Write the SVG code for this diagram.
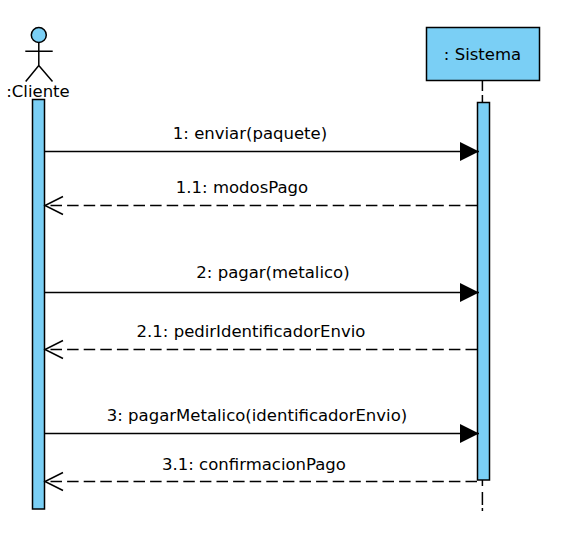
<svg xmlns="http://www.w3.org/2000/svg" width="561" height="536" viewBox="0 0 561 536">
<style>
.f{fill:#7acff5;stroke:#000;stroke-width:1.5}
.l{stroke:#000;stroke-width:1.5;fill:none}
.d{stroke-dasharray:11.500 5.100}
.o{stroke:#000;stroke-width:1.5;fill:none}
text{font-family:"DejaVu Sans",sans-serif;font-size:16.500px;fill:#000;text-anchor:middle}
</style>
<defs>
<marker id="solid" markerUnits="userSpaceOnUse" markerWidth="20" markerHeight="22" refX="19" refY="11" orient="auto"><path d="M0 1.500L19 11L0 20.500z" fill="#000"/></marker>
</defs>
<rect width="561" height="536" fill="#fff"/>
<g id="lifelines"><path class="l" d="M482.400 80V91M482.400 95V102"/><path class="l" d="M482.400 480V486M482.400 492V505M482.400 508V511"/></g>
<g id="cliente">
<circle class="f" cx="38.800" cy="35" r="7.500"/>
<path class="l" d="M38.800 42.500V65.500M25.300 51.300H52.700M38.800 65.500L25.700 81.500M38.800 65.500L52.500 81.500"/>
<text x="38" y="97">:Cliente</text>
<rect class="f" x="32.500" y="99.500" width="12" height="409.500"/>
</g>
<g id="sistema">
<rect class="f" x="426.500" y="27.500" width="113" height="53"/>
<text x="482.500" y="60">: Sistema</text>
<rect class="f" x="477.500" y="102.500" width="12" height="377.500"/>
</g>
<g id="connectors">
<path class="l" d="M45 151.500H479" marker-end="url(#solid)"/>
<path class="l d" d="M477 205.500H45"/><path class="o" d="M63 196.500L45 205.500L63 214.500"/>
<path class="l" d="M45 292.500H479" marker-end="url(#solid)"/>
<path class="l d" d="M477 349.500H45"/><path class="o" d="M63 340.500L45 349.500L63 358.500"/>
<path class="l" d="M45 433.500H479" marker-end="url(#solid)"/>
<path class="l d" d="M477 481.500H45"/><path class="o" d="M63 472.500L45 481.500L63 490.500"/>
</g>
<g id="labels">
<text x="250" y="139">1: enviar(paquete)</text>
<text x="242" y="193">1.1: modosPago</text>
<text x="273" y="278">2: pagar(metalico)</text>
<text x="251" y="337">2.1: pedirIdentificadorEnvio</text>
<text x="257" y="421">3: pagarMetalico(identificadorEnvio)</text>
<text x="254" y="470">3.1: confirmacionPago</text>
</g>
</svg>
